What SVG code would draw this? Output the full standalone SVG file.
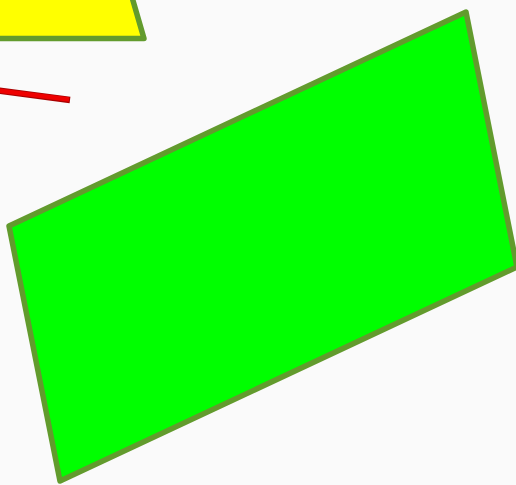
<svg xmlns="http://www.w3.org/2000/svg" width="516" height="485" viewBox="0 0 516 485">
<style>
.shape{stroke:#629b2d;stroke-width:5.5;stroke-linejoin:round}
</style>
<rect width="516" height="485" fill="#fafafa"/>
<g id="yellow-trapezoid">
<polygon class="shape" points="-10,38.5 144,38.5 130.5,-8 -10,-8" fill="#ffff00"/>
</g>
<g id="red-line">
<line x1="-10" y1="89.5" x2="70" y2="100" stroke="#a80000" stroke-width="6.5"/>
<line x1="-10" y1="89.5" x2="69" y2="99.6" stroke="#ee0000" stroke-width="4.5"/>
</g>
<g id="green-parallelogram">
<polygon class="shape" points="9,226 466,12 517,267 60,481" fill="#00ff00"/>
</g>
</svg>
